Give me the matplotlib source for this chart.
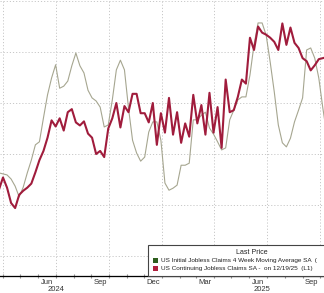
import matplotlib
matplotlib.use("Agg")
import matplotlib.pyplot as plt
import matplotlib.dates as mdates
from matplotlib.patches import Rectangle
import pandas as pd

plt.rcParams["font.family"] = ["Liberation Sans", "DejaVu Sans"]

# weekly observations
weeks = pd.date_range("2024-03-25", periods=82, freq="7D")

# US Continuing Jobless Claims SA (thousands)
continuing = [1815, 1827, 1817, 1802, 1797, 1810, 1814, 1817, 1821, 1832,
              1844, 1853, 1866, 1883, 1877, 1885, 1873, 1891, 1894, 1881,
              1878, 1882, 1870, 1866, 1850, 1853, 1847, 1875, 1885, 1900,
              1876, 1897, 1891, 1909, 1909, 1890, 1890, 1881, 1900, 1859,
              1890, 1871, 1905, 1869, 1891, 1861, 1880, 1867, 1908, 1880,
              1898, 1869, 1910, 1871, 1896, 1856, 1923, 1891, 1893, 1906,
              1923, 1919, 1964, 1952, 1975, 1969, 1967, 1964, 1960, 1952,
              1978, 1957, 1974, 1959, 1954, 1944, 1941, 1932, 1937, 1943,
              1944, 1945]

# US Initial Jobless Claims 4 Week Moving Average SA (thousands)
initial_4wk = [216.3, 216.1, 215.9, 215.1, 213.7, 211.6, 213.5, 216.3, 218.8, 221.8,
               222.4, 227.1, 231.6, 234.9, 237.5, 232.9, 233.3, 234.3, 237.3, 239.8,
               237.3, 235.9, 232.5, 231.0, 230.4, 229.2, 225.3, 225.7, 230.6, 236.5,
               238.4, 236.5, 229.0, 222.7, 220.2, 218.6, 219.4, 224.3, 226.3, 226.3,
               222.7, 214.3, 212.9, 213.3, 213.9, 217.8, 217.8, 218.2, 226.7, 226.7,
               227.6, 228.2, 225.1, 223.9, 222.4, 220.8, 221.2, 226.7, 228.6, 230.6,
               231.2, 231.2, 235.5, 241.4, 245.7, 245.7, 243.3, 238.0, 232.2, 225.7,
               222.2, 221.4, 223.1, 226.3, 228.6, 231.0, 240.4, 240.8, 238.8, 234.9,
               229.0, 223.7]

month_labels = ["Jun", "Sep", "Dec", "Mar", "Jun", "Sep"]
label_dates = pd.to_datetime(["2024-06-16", "2024-09-16", "2024-12-16",
                              "2025-03-16", "2025-06-16", "2025-09-16"])
year_labels = ["2024", "2025"]
year_dates = pd.to_datetime(["2024-07-01", "2025-06-22"])
legend_labels = ["US Initial Jobless Claims 4 Week Moving Average SA  (",
                 "US Continuing Jobless Claims SA -  on 12/19/25  (L1)"]

grey_col = "#a6a690"
red_col = "#a01c3c"

fig = plt.figure(figsize=(3.24, 2.93), dpi=100)
ax = fig.add_axes([0, 17 / 293, 1, 276 / 293])
ax2 = ax.twinx()

ax.plot(weeks, initial_4wk, color=grey_col, lw=0.8)
ax2.plot(weeks, continuing, color=red_col, lw=1.5)

ax.set_xlim(pd.Timestamp("2024-03-26 20:00"), pd.Timestamp("2025-10-08"))
ax.set_ylim(196.08, 250.2)
ax2.set_ylim(1730.4, 2001)

# grid
ax.set_yticks(range(200, 251, 10))
ax.grid(axis="y", color="#c8c8c8", ls=(0, (1.2, 2)), lw=0.7)
for d in pd.to_datetime(["2024-04-01", "2024-07-01", "2024-10-01", "2025-01-01",
                         "2025-04-01", "2025-07-01", "2025-10-01"]):
    ax.axvline(d, color="#c8c8c8", ls=(0, (1.2, 2)), lw=0.7, zorder=0)

for a in (ax, ax2):
    for s in ("top", "left", "right"):
        a.spines[s].set_visible(False)
    a.tick_params(left=False, right=False, labelleft=False, labelright=False)
ax.spines["bottom"].set_color("#8a8a8a")
ax.spines["bottom"].set_linewidth(1.0)

ax.set_xticks(label_dates)
ax.set_xticklabels(month_labels)
ax.xaxis.set_minor_locator(mdates.MonthLocator())
ax.tick_params(axis="x", which="major", length=0, pad=2.2, labelsize=5.5,
               labelcolor="#333333")
ax.tick_params(axis="x", which="minor", length=2.5, direction="inout",
               color="#8a8a8a", width=0.8)
for d, y in zip(year_dates, year_labels):
    ax.text(d, -0.036, y, transform=ax.get_xaxis_transform(), ha="center",
            va="top", fontsize=5.5, color="#333333")

# legend box
box = Rectangle((148 / 324, 17 / 293), 1, 31 / 293, transform=fig.transFigure,
                facecolor="white", edgecolor="#444444", lw=0.8, zorder=10)
fig.add_artist(box)
fig.text(252 / 324, 1 - 253 / 293, "Last Price", ha="center", va="center",
         fontsize=5.0, color="#222222", zorder=11)
sq_cols = ["#2e5e1e", "#b0203e"]
for i, (lab, c) in enumerate(zip(legend_labels, sq_cols)):
    yc = 260.5 + 8 * i
    fig.add_artist(Rectangle((153 / 324, 1 - (yc + 2.5) / 293), 5 / 324, 5 / 293,
                             transform=fig.transFigure, facecolor=c,
                             edgecolor="none", zorder=11))
    fig.text(161 / 324, 1 - yc / 293, lab, ha="left", va="center", fontsize=4.6,
             color="#222222", zorder=11)

fig.savefig("out.png", dpi=100)
